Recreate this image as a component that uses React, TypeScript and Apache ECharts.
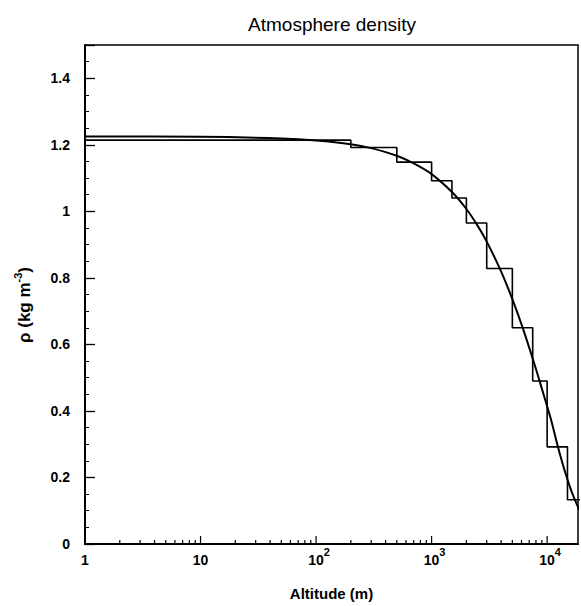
import React, { useEffect, useRef } from "react";
import * as echarts from "echarts";

// Smooth density profile (altitude in m, density in kg m^-3)
const altitudes = [1, 10, 50, 100, 200, 300, 500, 700, 1000, 1500, 2000, 2500, 3000, 4000, 5000, 6000, 7000, 8000, 9000, 10000, 11000, 12000, 13000, 14000, 15000, 16000, 17000, 18000, 19000];
const densities = [1.225, 1.224, 1.219, 1.213, 1.202, 1.190, 1.167, 1.144, 1.112, 1.058, 1.007, 0.957, 0.909, 0.819, 0.736, 0.660, 0.590, 0.526, 0.467, 0.414, 0.364, 0.311, 0.266, 0.227, 0.194, 0.165, 0.141, 0.121, 0.103];

// Histogram bins (edges and bin values)
const binEdges = [1, 200, 500, 1000, 1500, 2000, 3000, 5000, 7500, 10000, 15000, 20000];
const binValues = [1.214, 1.192, 1.148, 1.092, 1.040, 0.965, 0.828, 0.650, 0.490, 0.292, 0.133];

// Axis ticks
const xMajorTicks = [1, 10, 100, 1000, 10000];
const xTickBase = ["1", "10", "10", "10", "10"];
const xTickExp = ["", "", "2", "3", "4"];
const xMinorTicks = [2, 3, 4, 5, 6, 7, 8, 9, 20, 30, 40, 50, 60, 70, 80, 90, 200, 300, 400, 500, 600, 700, 800, 900, 2000, 3000, 4000, 5000, 6000, 7000, 8000, 9000];
const yTickValues = [0, 0.2, 0.4, 0.6, 0.8, 1, 1.2, 1.4];
const yTickLabels = ["0", "0.2", "0.4", "0.6", "0.8", "1", "1.2", "1.4"];

const FONT = "'Liberation Sans', Arial, Helvetica, sans-serif";

export default function App() {
  const ref = useRef<HTMLDivElement>(null);
  useEffect(() => {
    if (!ref.current) return;
    const chart = echarts.init(ref.current, undefined, { renderer: "svg" });

    const curveData = altitudes.map((a, i) => [a, densities[i]]);
    const histData: number[][] = [];
    binValues.forEach((v, i) => {
      histData.push([binEdges[i], v]);
      histData.push([binEdges[i + 1], v]);
    });

    const tickSeries = (vals: number[], len: number) => ({
      type: "custom",
      silent: true,
      data: vals.map((v) => [v, 0]),
      renderItem: (params: any, api: any) => {
        const p = api.coord([api.value(0), 0]);
        return {
          type: "line",
          shape: { x1: p[0], y1: p[1], x2: p[0], y2: p[1] - len },
          style: { stroke: "#000", lineWidth: 1.2 },
        };
      },
      z: 5,
    });

    const findIdx = (arr: number[], v: number) =>
      arr.findIndex((t) => Math.abs(t - v) < 1e-6 * Math.max(1, Math.abs(t)));

    chart.setOption({
      animation: false,
      textStyle: { fontFamily: FONT },
      graphic: [
        {
          type: "text",
          x: 332,
          y: 24,
          style: {
            text: "Atmosphere density",
            font: `19px ${FONT}`,
            fill: "#000",
            textAlign: "center",
            textVerticalAlign: "middle",
          },
        },
        {
          type: "text",
          x: 24,
          y: 305,
          rotation: Math.PI / 2,
          style: {
            text: "{a|ρ (kg m}{s|-3}{a|)}",
            textAlign: "center",
            textVerticalAlign: "middle",
            rich: {
              a: { fontSize: 17, fontWeight: "bold", fontFamily: FONT, fill: "#000", lineHeight: 18, verticalAlign: "bottom" },
              s: { fontSize: 11, fontWeight: "bold", fontFamily: FONT, fill: "#000", lineHeight: 12, padding: [0, 0, 10, 0], verticalAlign: "bottom" },
            },
          },
        },
      ],
      grid: {
        left: 85,
        right: 2,
        top: 45,
        bottom: 61,
        show: true,
        borderColor: "#000",
        borderWidth: 1.5,
        backgroundColor: "transparent",
      },
      xAxis: {
        type: "log",
        logBase: 10,
        min: 1,
        max: 18500,
        name: "Altitude (m)",
        nameLocation: "middle",
        nameGap: 42,
        nameTextStyle: { fontSize: 15, fontWeight: "bold", color: "#000", fontFamily: FONT },
        axisLine: { show: true, lineStyle: { color: "#000", width: 2 } },
        axisTick: { show: false },
        splitLine: { show: false },
        axisLabel: {
          margin: 7,
          color: "#000",
          formatter: (v: number) => {
            const i = findIdx(xMajorTicks, v);
            if (i < 0) return "";
            if (!xTickExp[i]) return `{c|${xTickBase[i]}}`;
            return `{p|}{b|${xTickBase[i]}}{s|${xTickExp[i]}}`;
          },
          rich: {
            b: { fontSize: 14, fontWeight: "bold", fontFamily: FONT, color: "#000", lineHeight: 16, verticalAlign: "bottom" },
            c: { fontSize: 14, fontWeight: "bold", fontFamily: FONT, color: "#000", lineHeight: 16, padding: [6, 0, 0, 0], verticalAlign: "bottom" },
            s: { fontSize: 11, fontWeight: "bold", fontFamily: FONT, color: "#000", lineHeight: 12, padding: [0, 0, 10, 0], verticalAlign: "bottom" },
            p: { width: 6, lineHeight: 16, verticalAlign: "bottom" },
          },
        },
      },
      yAxis: {
        type: "value",
        min: 0,
        max: 1.5,
        interval: 0.2,
        axisLine: { show: true, lineStyle: { color: "#000", width: 2 } },
        axisTick: { show: true, inside: true, length: 10, lineStyle: { color: "#000", width: 1.3 } },
        minorTick: { show: true, splitNumber: 4, length: 4, lineStyle: { color: "#000", width: 1 } },
        splitLine: { show: false },
        axisLabel: {
          margin: 15,
          color: "#000",
          fontSize: 14,
          fontWeight: "bold",
          fontFamily: FONT,
          showMaxLabel: false,
          formatter: (v: number) => {
            const i = findIdx(yTickValues, v);
            return i < 0 ? "" : yTickLabels[i];
          },
        },
      },
      series: [
        {
          type: "line",
          data: histData,
          showSymbol: false,
          symbol: "none",
          lineStyle: { color: "#000", width: 1.6 },
          clip: true,
          z: 3,
        },
        {
          type: "line",
          data: curveData,
          smooth: 0.3,
          showSymbol: false,
          symbol: "none",
          lineStyle: { color: "#000", width: 2 },
          clip: true,
          z: 4,
        },
        tickSeries(xMajorTicks, 8),
        tickSeries(xMinorTicks, 4),
      ],
    });
    return () => chart.dispose();
  }, []);
  return (
    <div
      ref={ref}
      style={{ position: "fixed", left: 0, top: 0, width: 581, height: 606, background: "#fff" }}
    />
  );
}
